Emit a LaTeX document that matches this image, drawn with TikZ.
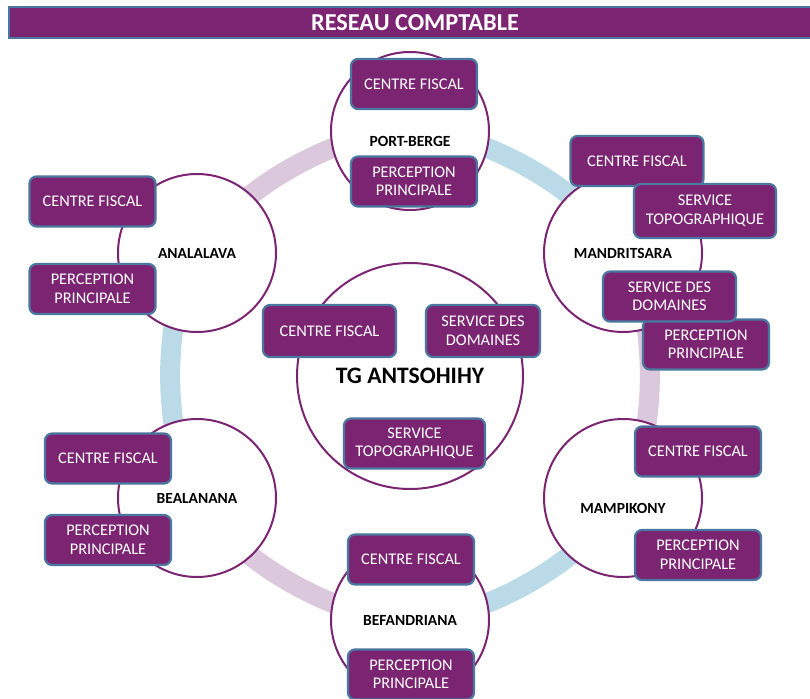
\documentclass[tikz,border=0pt]{standalone}
\usepackage{fontspec}
\setmainfont{Carlito}
\definecolor{prune}{HTML}{7B2572}
\definecolor{steel}{HTML}{4A77A0}
\definecolor{lavender}{HTML}{DBC8DD}
\definecolor{skyblue}{HTML}{B9DAE6}
\begin{document}
\begin{tikzpicture}[x=1pt,y=-1pt]

\tikzstyle{service}=[draw=steel, line width=2.2pt, fill=prune, rounded corners=7pt, text=white, align=center, minimum width=126pt, minimum height=50pt, inner sep=2pt, font=\fontsize{16.3}{18.5}\selectfont]
\tikzstyle{site}=[draw=prune, line width=2pt, fill=white, circle, minimum size=158pt, inner sep=0pt]
\tikzstyle{site_name}=[font=\bfseries\fontsize{15.5}{17}\selectfont]
\tikzstyle{ring}=[line width=20pt, bend right=30, looseness=0.75]

\useasboundingbox (0,0) rectangle (810,698);

% title
\node[fill=prune, draw=steel, line width=2pt, minimum width=812pt, minimum height=31pt, anchor=north west, text=white, font=\bfseries\fontsize{24.3}{27}\selectfont] (title) at (8,6) {RESEAU COMPTABLE};

% site centres
\coordinate (tg) at (410,376);
\coordinate (port_berge) at (410,131);
\coordinate (mandritsara) at (623,253);
\coordinate (mampikony) at (623,498);
\coordinate (befandriana) at (410,620);
\coordinate (bealanana) at (197,498);
\coordinate (analalava) at (197,253);

% ring
\draw[ring, lavender] (port_berge) to (analalava);
\draw[ring, skyblue] (analalava) to (bealanana);
\draw[ring, lavender] (bealanana) to (befandriana);
\draw[ring, skyblue] (befandriana) to (mampikony);
\draw[ring, lavender] (mampikony) to (mandritsara);
\draw[ring, skyblue] (mandritsara) to (port_berge);

% circles
\node[site, minimum size=226pt] (tg_c) at (tg) {};
\node[site] (port_berge_c) at (port_berge) {};
\node[site] (mandritsara_c) at (mandritsara) {};
\node[site] (mampikony_c) at (mampikony) {};
\node[site] (befandriana_c) at (befandriana) {};
\node[site] (bealanana_c) at (bealanana) {};
\node[site] (analalava_c) at (analalava) {};

\node[font=\bfseries\fontsize{23.6}{27}\selectfont] (tg_name) at (tg) {TG ANTSOHIHY};
\node[site_name, yshift=-10pt] (port_berge_name) at (port_berge) {PORT-BERGE};
\node[site_name] (mandritsara_name) at (mandritsara) {MANDRITSARA};
\node[site_name, yshift=-10pt] (mampikony_name) at (mampikony) {MAMPIKONY};
\node[site_name] (befandriana_name) at (befandriana) {BEFANDRIANA};
\node[site_name] (bealanana_name) at (bealanana) {BEALANANA};
\node[site_name] (analalava_name) at (analalava) {ANALALAVA};

% services
\node[service, minimum width=133pt, minimum height=52pt] (tg_cf) at (329.5,331) {CENTRE FISCAL};
\node[service, minimum width=114pt, minimum height=52pt] (tg_sd) at (483,331) {SERVICE DES\\DOMAINES};
\node[service, minimum width=141pt] (tg_st) at (414.5,443.5) {SERVICE\\TOPOGRAPHIQUE};

\node[service] (pb_cf) at (414,84) {CENTRE FISCAL};
\node[service] (pb_pp) at (414,181.5) {PERCEPTION\\PRINCIPALE};

\node[service, minimum width=133pt] (md_cf) at (637,161) {CENTRE FISCAL};
\node[service, minimum width=142pt, minimum height=54pt] (md_st) at (705,211) {SERVICE\\TOPOGRAPHIQUE};
\node[service] (md_pp) at (706,344.5) {PERCEPTION\\PRINCIPALE};
\node[service, minimum width=133pt] (md_sd) at (669.5,296.5) {SERVICE DES\\DOMAINES};

\node[service] (an_cf) at (92.5,201.5) {CENTRE FISCAL};
\node[service] (an_pp) at (92.5,289) {PERCEPTION\\PRINCIPALE};

\node[service] (be_cf) at (108,458.5) {CENTRE FISCAL};
\node[service] (be_pp) at (108,540) {PERCEPTION\\PRINCIPALE};

\node[service] (mp_cf) at (698,451.5) {CENTRE FISCAL};
\node[service] (mp_pp) at (698,555) {PERCEPTION\\PRINCIPALE};

\node[service] (bf_cf) at (411,559.5) {CENTRE FISCAL};
\node[service] (bf_pp) at (411,674.5) {PERCEPTION\\PRINCIPALE};

\end{tikzpicture}
\end{document}
